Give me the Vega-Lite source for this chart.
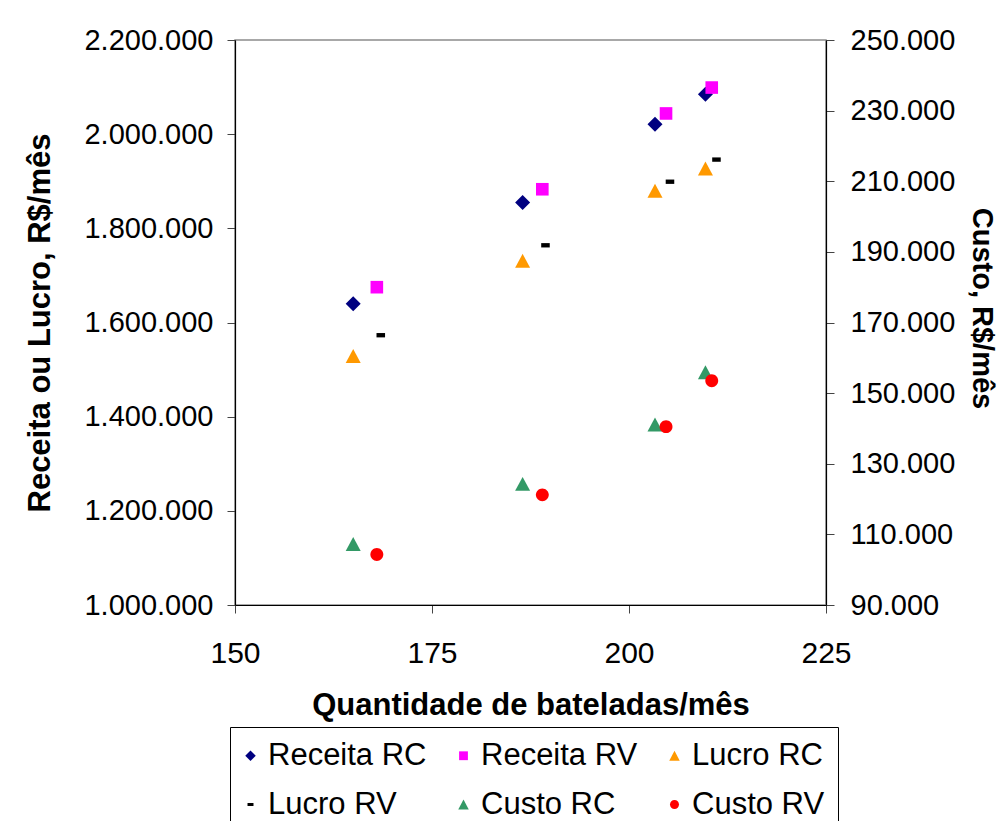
{
  "$schema": "https://vega.github.io/schema/vega-lite/v6.json",
  "width": 591,
  "height": 565,
  "autosize": {"type": "none"},
  "padding": {"left": 235, "top": 40, "right": 176, "bottom": 216},
  "background": "white",
  "config": {
    "locale": {"number": {"decimal": ",", "thousands": ".", "grouping": [3], "currency": ["R$", ""]}},
    "font": "Liberation Sans",
    "view": {"stroke": "#8c8c8c", "strokeWidth": 1.5},
    "axis": {
      "grid": false,
      "labelFlush": false,
      "labelOverlap": false,
      "domainColor": "#000000",
      "domainWidth": 1.2,
      "tickColor": "#444444",
      "tickSize": 8,
      "labelFont": "Liberation Sans",
      "labelFontSize": 29,
      "labelColor": "#000000",
      "titleFont": "Liberation Sans",
      "titleFontSize": 31,
      "titleFontWeight": "bold",
      "titleColor": "#000000"
    },
    "legend": {
      "orient": "none",
      "legendX": -5,
      "legendY": 687,
      "direction": "horizontal",
      "columns": 3,
      "strokeColor": "#000000",
      "fillColor": "#ffffff",
      "padding": 13,
      "columnPadding": 29,
      "rowPadding": 17,
      "symbolOffset": -8,
      "labelOffset": 2,
      "labelFont": "Liberation Sans",
      "labelFontSize": 31,
      "labelColor": "#000000",
      "symbolSize": 110,
      "symbolStrokeWidth": 0,
      "title": null
    }
  },
  "data": {
    "values": [
      {"bateladas": 165.0, "valor": 1640000, "serie": "Receita RC", "eixo": "esq"},
      {"bateladas": 186.5, "valor": 1855000, "serie": "Receita RC", "eixo": "esq"},
      {"bateladas": 203.3, "valor": 2021000, "serie": "Receita RC", "eixo": "esq"},
      {"bateladas": 209.7, "valor": 2085000, "serie": "Receita RC", "eixo": "esq"},
      {"bateladas": 168.0, "valor": 1675000, "serie": "Receita RV", "eixo": "esq"},
      {"bateladas": 189.0, "valor": 1883000, "serie": "Receita RV", "eixo": "esq"},
      {"bateladas": 204.7, "valor": 2044000, "serie": "Receita RV", "eixo": "esq"},
      {"bateladas": 210.5, "valor": 2099000, "serie": "Receita RV", "eixo": "esq"},
      {"bateladas": 165.0, "valor": 1529000, "serie": "Lucro RC", "eixo": "esq"},
      {"bateladas": 186.5, "valor": 1731000, "serie": "Lucro RC", "eixo": "esq"},
      {"bateladas": 203.3, "valor": 1880000, "serie": "Lucro RC", "eixo": "esq"},
      {"bateladas": 209.7, "valor": 1927000, "serie": "Lucro RC", "eixo": "esq"},
      {"bateladas": 168.5, "valor": 1573000, "serie": "Lucro RV", "eixo": "esq"},
      {"bateladas": 189.4, "valor": 1764000, "serie": "Lucro RV", "eixo": "esq"},
      {"bateladas": 205.2, "valor": 1899000, "serie": "Lucro RV", "eixo": "esq"},
      {"bateladas": 211.1, "valor": 1946000, "serie": "Lucro RV", "eixo": "esq"},
      {"bateladas": 165.0, "valor": 107300, "serie": "Custo RC", "eixo": "dir"},
      {"bateladas": 186.5, "valor": 124300, "serie": "Custo RC", "eixo": "dir"},
      {"bateladas": 203.3, "valor": 141100, "serie": "Custo RC", "eixo": "dir"},
      {"bateladas": 209.7, "valor": 155900, "serie": "Custo RC", "eixo": "dir"},
      {"bateladas": 168.0, "valor": 104300, "serie": "Custo RV", "eixo": "dir"},
      {"bateladas": 189.0, "valor": 121200, "serie": "Custo RV", "eixo": "dir"},
      {"bateladas": 204.7, "valor": 140500, "serie": "Custo RV", "eixo": "dir"},
      {"bateladas": 210.5, "valor": 153500, "serie": "Custo RV", "eixo": "dir"}
    ]
  },
  "encoding": {
    "x": {
      "field": "bateladas",
      "type": "quantitative",
      "scale": {"domain": [150, 225], "nice": false, "zero": false},
      "axis": {
        "values": [150, 175, 200, 225],
        "format": "d",
        "title": "Quantidade de bateladas/mês",
        "labelFontSize": 30,
        "labelPadding": 25,
        "titlePadding": 22
      }
    },
    "color": {
      "field": "serie",
      "type": "nominal",
      "scale": {
        "domain": ["Receita RC", "Receita RV", "Lucro RC", "Lucro RV", "Custo RC", "Custo RV"],
        "range": ["#000080", "#ff00ff", "#ff9900", "#000000", "#339966", "#ff0000"]
      }
    },
    "shape": {
      "field": "serie",
      "type": "nominal",
      "scale": {
        "domain": ["Receita RC", "Receita RV", "Lucro RC", "Lucro RV", "Custo RC", "Custo RV"],
        "range": [
          "M-1,0L0,-1L1,0L0,1Z",
          "M-0.84,-0.84H0.84V0.84H-0.84Z",
          "M0,-0.93L1,0.93L-1,0.93Z",
          "M-0.57,-0.29H0.57V0.29H-0.57Z",
          "M0,-0.93L1,0.93L-1,0.93Z",
          "M-0.86,0A0.86,0.86,0,1,1,0.86,0A0.86,0.86,0,1,1,-0.86,0Z"
        ]
      }
    }
  },
  "layer": [
    {
      "transform": [{"filter": "datum.eixo === 'esq'"}],
      "mark": {"type": "point", "filled": true, "opacity": 1, "size": 225, "strokeWidth": 0},
      "encoding": {
        "y": {
          "field": "valor",
          "type": "quantitative",
          "scale": {"domain": [1000000, 2200000], "nice": false, "zero": false},
          "axis": {
            "orient": "left",
            "values": [1000000, 1200000, 1400000, 1600000, 1800000, 2000000, 2200000],
            "format": ",d",
            "title": "Receita ou Lucro, R$/mês",
            "labelPadding": 14,
            "titlePadding": 27
          }
        }
      }
    },
    {
      "transform": [{"filter": "datum.eixo === 'dir'"}],
      "mark": {"type": "point", "filled": true, "opacity": 1, "size": 225, "strokeWidth": 0},
      "encoding": {
        "y": {
          "field": "valor",
          "type": "quantitative",
          "scale": {"domain": [90000, 250000], "nice": false, "zero": false},
          "axis": {
            "orient": "right",
            "values": [90000, 110000, 130000, 150000, 170000, 190000, 210000, 230000, 250000],
            "format": ",d",
            "title": "Custo, R$/mês",
            "titleFontSize": 29,
            "titleY": 268,
            "labelPadding": 16,
            "titlePadding": 12
          }
        }
      }
    }
  ],
  "resolve": {"scale": {"y": "independent"}}
}
